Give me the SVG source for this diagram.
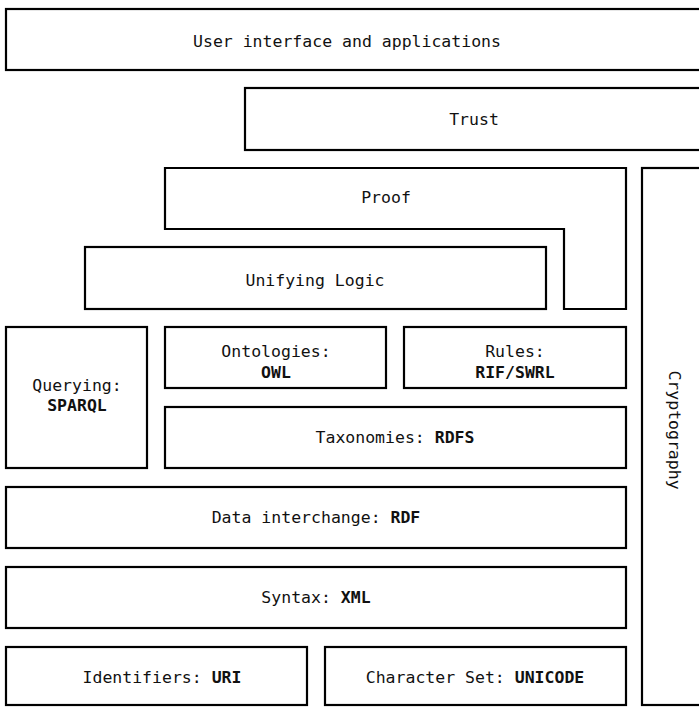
<svg xmlns="http://www.w3.org/2000/svg" width="699" height="708" viewBox="0 0 699 708">
<style>
.box{fill:#fff;stroke:#000;stroke-width:2.2}
.t{font-family:"DejaVu Sans Mono","Liberation Mono",monospace;font-size:16.5px;fill:#111;text-anchor:middle}
.b{font-weight:bold}
</style>
<rect width="699" height="708" fill="#fff"/>
<g id="ui"><rect class="box" x="6" y="9" width="700" height="61"/><text class="t" x="347" y="47">User interface and applications</text></g>
<g id="trust"><rect class="box" x="245" y="88" width="460" height="62"/><text class="t" x="474" y="125">Trust</text></g>
<g id="proof"><path class="box" d="M165,168 H626 V309 H564 V229 H165 Z"/><text class="t" x="386" y="203">Proof</text></g>
<g id="logic"><rect class="box" x="85" y="247" width="461" height="62"/><text class="t" x="315" y="286">Unifying Logic</text></g>
<g id="crypto"><rect class="box" x="642" y="168" width="64" height="537"/><text class="t" transform="translate(669,430) rotate(90)" x="0" y="0">Cryptography</text></g>
<g id="querying"><rect class="box" x="6" y="327" width="141" height="141"/><text class="t" x="77" y="391">Querying:</text><text class="t b" x="77" y="411">SPARQL</text></g>
<g id="ontologies"><rect class="box" x="165" y="327" width="221" height="61"/><text class="t" x="276" y="357">Ontologies:</text><text class="t b" x="276" y="378">OWL</text></g>
<g id="rules"><rect class="box" x="404" y="327" width="222" height="61"/><text class="t" x="515" y="357">Rules:</text><text class="t b" x="515" y="378">RIF/SWRL</text></g>
<g id="taxonomies"><rect class="box" x="165" y="407" width="461" height="61"/><text class="t" x="395" y="443">Taxonomies: <tspan class="b">RDFS</tspan></text></g>
<g id="rdf"><rect class="box" x="6" y="487" width="620" height="61"/><text class="t" x="316" y="523">Data interchange: <tspan class="b">RDF</tspan></text></g>
<g id="xml"><rect class="box" x="6" y="567" width="620" height="61"/><text class="t" x="316" y="603">Syntax: <tspan class="b">XML</tspan></text></g>
<g id="uri"><rect class="box" x="6" y="647" width="301" height="58"/><text class="t" x="162" y="683">Identifiers: <tspan class="b">URI</tspan></text></g>
<g id="unicode"><rect class="box" x="325" y="647" width="301" height="58"/><text class="t" x="475" y="683">Character Set: <tspan class="b">UNICODE</tspan></text></g>
<g id="connectors"></g>
</svg>
